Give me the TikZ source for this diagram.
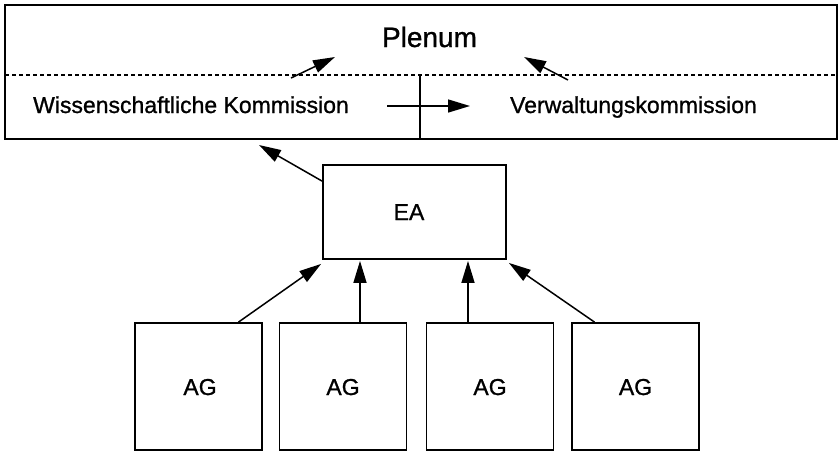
\documentclass[tikz,border=0pt]{standalone}
\usepackage{fontspec}
\newfontfamily\diagfont[FakeBold=1.0]{Liberation Sans}
\usetikzlibrary{arrows.meta}
\begin{document}
\begin{tikzpicture}[x=1pt,y=-1pt,
  frm/.style={draw, line width=1.8pt, inner sep=0pt},
  box/.style={draw, line width=1.8pt, minimum width=127pt, minimum height=127pt, inner sep=0pt},
  conn/.style={line width=1.5pt, -{Triangle[length=22pt,width=13pt]}},
  lbl/.style={font=\diagfont\fontsize{23}{27}\selectfont, inner sep=0pt, anchor=base},
  big/.style={font=\diagfont\fontsize{28}{32}\selectfont, inner sep=0pt, anchor=base}
]
\useasboundingbox (0,0) rectangle (839,451);

% outer frame
\node[frm, minimum width=832pt, minimum height=134pt] (frame) at (421,72) {};
\coordinate (dl) at (5,75);
\coordinate (dr) at (837,75);
\draw[line width=1.4pt, dash pattern=on 4pt off 3pt] (dl) -- (dr);
\coordinate (vt) at (420,75);
\coordinate (vb) at (420,139);
\draw[line width=1.6pt] (vt) -- (vb);

% labels
\node[big] (plenum) at (429.5,47) {Plenum};
\node[lbl] (wk) at (191,113) {Wissenschaftliche Kommission};
\node[lbl] (vk) at (633.5,113) {Verwaltungskommission};

% internal arrows
\coordinate (wkt) at (291,78);
\coordinate (wkh) at (335,57);
\coordinate (vkt) at (568,80);
\coordinate (vkh) at (524,57);
\coordinate (ht) at (387,106);
\coordinate (hh) at (470,106);
\draw[conn] (wkt) -- (wkh);
\draw[conn] (vkt) -- (vkh);
\draw[conn] (ht) -- (hh);

% EA
\node[draw, line width=1.8pt, minimum width=183pt, minimum height=94pt, inner sep=0pt] (ea) at (414.5,212) {};
\node[lbl] (ealbl) at (409,220) {EA};
\coordinate (eah) at (259,145);
\draw[conn] ([yshift=-17pt]ea.north west) -- (eah);

% AG boxes
\node[box] (ag1) at (198.5,386.5) {};
\node[box] (ag2) at (343,386.5) {};
\node[box] (ag3) at (490,386.5) {};
\node[box] (ag4) at (635.5,386.5) {};
\node[lbl] at (200,395) {AG};
\node[lbl] at (343,395) {AG};
\node[lbl] at (490,395) {AG};
\node[lbl] at (635.5,395) {AG};

\draw[conn] ([xshift=40pt]ag1.north) -- ([xshift=-1pt,yshift=-4pt]ea.south west);
\draw[conn] ([xshift=17pt]ag2.north) -- ([xshift=17pt,yshift=-1pt]ag2.north |- ea.south);
\draw[conn] ([xshift=-22pt]ag3.north) -- ([xshift=-22pt,yshift=-1pt]ag3.north |- ea.south);
\draw[conn] ([xshift=-41pt]ag4.north) -- ([xshift=2pt,yshift=-3pt]ea.south east);
\end{tikzpicture}
\end{document}
